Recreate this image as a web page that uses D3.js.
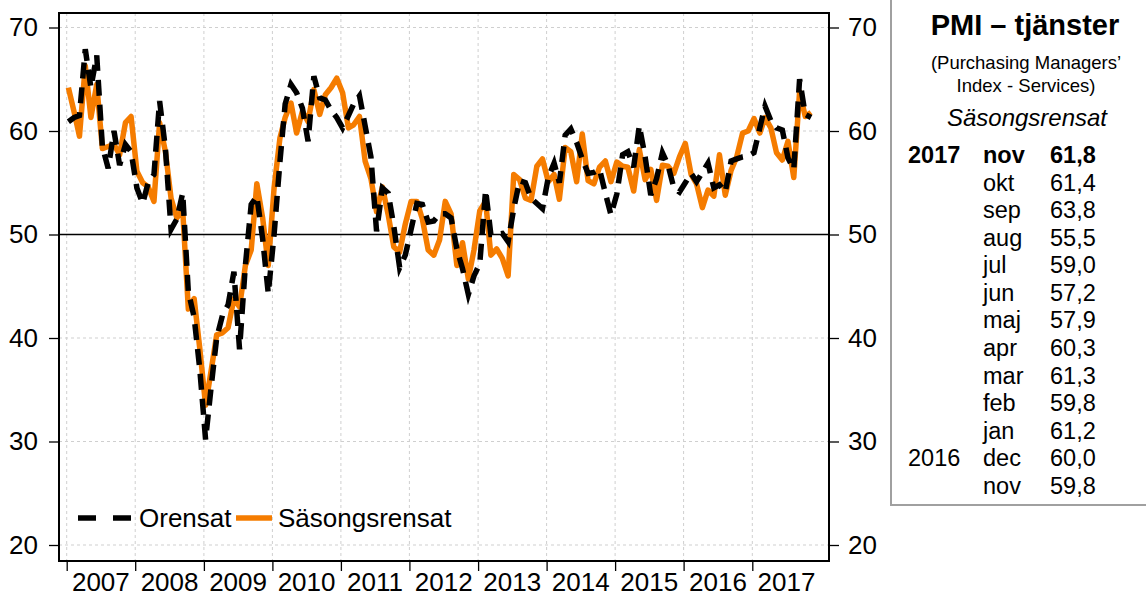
<!DOCTYPE html>
<meta charset="utf-8">
<style>
body { margin: 0; background: #fff; }
svg { font-family: "Liberation Sans", Arial, sans-serif; }
.grid line { stroke: #cfcfcf; stroke-width: 1; stroke-dasharray: 3,3; }
.axis text { font-size: 26px; fill: #000; }
.axis line { stroke: #000; stroke-width: 1.3; }
.axis path { display: none; }
.frame { fill: none; stroke: #000; stroke-width: 2; }
.line { fill: none; stroke-width: 5.5; stroke-linejoin: round; }
.orensat { stroke: #000; stroke-dasharray: 16,9; stroke-linejoin: miter; }
.sasong { stroke: #f57c00; }
.legend text { font-size: 26px; }
.panel text { fill: #000; }
</style>
<svg width="1146" height="598"></svg>
<script src="https://d3js.org/d3.v7.min.js"></script>
<script>

// monthly values from jan 2007 to nov 2017
var orensat = [
  60.9, 61.3, 61.5, 67.9, 64.2, 67.3, 58.5, 56.4, 60.0, 56.7, 58.7, 58.0, // 2007
  54.5, 53.0, 55.0, 55.8, 62.9, 58.3, 50.5, 51.5, 54.0, 44.5, 42.0, 37.0, // 2008
  30.2, 35.5, 40.0, 42.2, 43.2, 46.4, 38.9, 47.0, 52.9, 53.7, 49.6, 44.3, // 2009
  50.0, 57.0, 62.6, 64.5, 63.7, 62.2, 59.0, 65.3, 63.2, 63.0, 62.0, 61.3, // 2010
  60.3, 61.5, 62.6, 63.4, 60.5, 57.5, 50.3, 54.5, 54.0, 50.8, 46.8, 48.0, // 2011
  50.5, 53.0, 52.9, 51.2, 51.3, 52.0, 52.0, 51.6, 48.6, 46.7, 44.2, 46.0, // 2012
  47.2, 54.3, 50.0, 50.0, 50.1, 49.3, 52.5, 55.2, 55.0, 53.5, 53.0, 52.5, // 2013
  55.5, 56.9, 55.0, 59.6, 60.2, 58.9, 57.3, 55.9, 56.0, 56.3, 54.0, 51.9, // 2014
  53.9, 57.7, 58.0, 56.5, 60.5, 57.5, 53.8, 55.4, 57.9, 56.7, 54.5, 54.1, // 2015
  55.0, 55.9, 55.1, 56.0, 56.9, 54.5, 54.8, 54.1, 57.1, 57.3, 57.5, 57.6, // 2016
  57.9, 60.3, 62.4, 61.0, 60.3, 60.1, 57.4, 56.3, 65.0, 61.6, 61.3        // 2017
];

var sasongsrensat = [
  64.2, 61.8, 59.5, 66.3, 61.3, 64.5, 58.3, 58.5, 58.7, 57.7, 60.8, 61.4, // 2007
  56.1, 55.0, 54.6, 53.2, 60.8, 58.0, 53.5, 51.6, 52.4, 42.8, 43.8, 39.0, // 2008
  33.5, 37.0, 40.3, 40.5, 41.0, 43.8, 43.0, 47.0, 48.5, 54.9, 51.6, 47.0, // 2009
  54.5, 59.3, 61.3, 62.7, 59.8, 61.9, 60.9, 64.0, 61.6, 63.5, 64.2, 65.1, // 2010
  63.7, 60.3, 60.6, 61.4, 57.1, 55.4, 52.2, 54.6, 51.9, 48.8, 48.3, 51.0, // 2011
  53.2, 53.2, 51.5, 48.5, 48.0, 49.5, 53.2, 52.0, 47.0, 49.2, 45.7, 48.5, // 2012
  52.3, 53.2, 48.0, 48.6, 47.7, 46.0, 55.8, 55.3, 53.5, 53.3, 56.6, 57.3, // 2013
  55.1, 55.8, 53.4, 58.4, 58.0, 55.1, 59.7, 55.2, 54.9, 56.5, 57.1, 55.1, // 2014
  57.0, 56.6, 56.5, 54.2, 58.2, 55.3, 56.3, 53.3, 56.7, 56.6, 55.9, 57.5, // 2015
  58.8, 55.8, 54.9, 52.6, 54.3, 53.7, 57.7, 53.8, 56.2, 57.5, 59.8, 60.0, // 2016
  61.2, 59.8, 61.3, 60.3, 57.9, 57.2, 59.0, 55.5, 63.8, 61.4, 61.8        // 2017
];

var years = [2007, 2008, 2009, 2010, 2011, 2012, 2013, 2014, 2015, 2016, 2017];
var yTicks = [20, 30, 40, 50, 60, 70];

// table to the right: latest 13 months, newest first
var tableYears  = ["2017", "", "", "", "", "", "", "", "", "", "", "2016", ""];
var tableMonths = ["nov", "okt", "sep", "aug", "jul", "jun", "maj", "apr", "mar", "feb", "jan", "dec", "nov"];
var tableValues = sasongsrensat.slice(-13).reverse();

var svg = d3.select("svg");
var frame = {left: 59, right: 829, top: 13, bottom: 561};

var x = d3.scaleTime()
    .domain([new Date(2007, 0, 1), new Date(2017, 0, 1)])
    .range([66.7, 752.3]);
var y = d3.scaleLinear()
    .domain([20, 70])
    .range([545, 27.5]);

function month(i) { return new Date(2007, i, 10); }

// grid
var grid = svg.append("g").attr("class", "grid");
grid.selectAll(".gy")
    .data(yTicks)
  .enter().append("line")
    .attr("x1", frame.left).attr("x2", frame.right)
    .attr("y1", function(d) { return y(d); })
    .attr("y2", function(d) { return y(d); });
grid.selectAll(".gx")
    .data(years)
  .enter().append("line")
    .attr("x1", function(d) { return x(new Date(d, 0, 1)); })
    .attr("x2", function(d) { return x(new Date(d, 0, 1)); })
    .attr("y1", frame.top).attr("y2", frame.bottom);

// 50 line
svg.append("line")
    .attr("x1", frame.left).attr("x2", frame.right)
    .attr("y1", y(50)).attr("y2", y(50))
    .attr("stroke", "#000").attr("stroke-width", 1.5);

svg.append("clipPath").attr("id", "clip")
  .append("rect")
    .attr("x", frame.left).attr("y", frame.top)
    .attr("width", frame.right - frame.left)
    .attr("height", frame.bottom - frame.top);

var line = d3.line()
    .x(function(d, i) { return x(month(i)); })
    .y(function(d) { return y(d); });

var plot = svg.append("g").attr("clip-path", "url(#clip)");
plot.append("path")
    .datum(sasongsrensat)
    .attr("class", "line sasong")
    .attr("d", line);
plot.append("path")
    .datum(orensat)
    .attr("class", "line orensat")
    .attr("d", line);

// frame + axes
svg.append("rect")
    .attr("class", "frame")
    .attr("x", frame.left).attr("y", frame.top)
    .attr("width", frame.right - frame.left)
    .attr("height", frame.bottom - frame.top);

svg.append("g")
    .attr("class", "axis")
    .attr("transform", "translate(" + frame.left + ",0)")
    .call(d3.axisLeft(y).tickValues(yTicks).tickSize(10).tickPadding(11));

svg.append("g")
    .attr("class", "axis")
    .attr("transform", "translate(" + frame.right + ",0)")
    .call(d3.axisRight(y).tickValues(yTicks).tickSize(10).tickPadding(9));

svg.append("g")
    .attr("class", "axis")
    .attr("transform", "translate(0," + frame.bottom + ")")
    .call(d3.axisBottom(x)
        .tickValues(years.map(function(d) { return new Date(d, 0, 1); }))
        .tickSize(10)
        .tickFormat(""));

svg.append("g")
    .attr("class", "axis")
  .selectAll("text")
    .data(years)
  .enter().append("text")
    .attr("x", function(d) { return x(new Date(d, 6, 2)); })
    .attr("y", 591)
    .attr("text-anchor", "middle")
    .text(function(d) { return d; });

// legend
var legend = svg.append("g").attr("class", "legend");
legend.append("line")
    .attr("x1", 78).attr("x2", 133).attr("y1", 518).attr("y2", 518)
    .attr("stroke", "#000").attr("stroke-width", 5.5)
    .attr("stroke-dasharray", "18,17");
legend.append("text").attr("x", 139).attr("y", 527).text("Orensat");
legend.append("line")
    .attr("x1", 236).attr("x2", 272).attr("y1", 518).attr("y2", 518)
    .attr("stroke", "#f57c00").attr("stroke-width", 5.5);
legend.append("text").attr("x", 278).attr("y", 527).text("Säsongsrensat");

// side panel
var panel = svg.append("g").attr("class", "panel");
panel.append("path")
    .attr("d", "M891,0V505H1146")
    .attr("fill", "none").attr("stroke", "#a0a0a0").attr("stroke-width", 2);
panel.append("text")
    .attr("x", 1025).attr("y", 35)
    .attr("text-anchor", "middle")
    .style("font-size", "29px").style("font-weight", "bold")
    .text("PMI – tjänster");
panel.append("text")
    .attr("x", 1026).attr("y", 69)
    .attr("text-anchor", "middle")
    .style("font-size", "18.5px")
    .text("(Purchasing Managers’");
panel.append("text")
    .attr("x", 1026).attr("y", 92)
    .attr("text-anchor", "middle")
    .style("font-size", "18.5px")
    .text("Index - Services)");
panel.append("text")
    .attr("x", 1027).attr("y", 126)
    .attr("text-anchor", "middle")
    .style("font-size", "24px").style("font-style", "italic")
    .text("Säsongsrensat");

var fmt = d3.formatLocale({decimal: ",", thousands: " ", grouping: [3], currency: ["", ""]}).format(".1f");
var rows = panel.selectAll(".row")
    .data(tableMonths)
  .enter().append("g")
    .attr("class", "row")
    .attr("transform", function(d, i) { return "translate(0," + (163 + i * 27.58) + ")"; })
    .style("font-size", "23.5px")
    .style("font-weight", function(d, i) { return i === 0 ? "bold" : "normal"; });
rows.append("text").attr("x", 908).text(function(d, i) { return tableYears[i]; });
rows.append("text").attr("x", 983).text(function(d) { return d; });
rows.append("text").attr("x", 1050).text(function(d, i) { return fmt(tableValues[i]); });

</script>
